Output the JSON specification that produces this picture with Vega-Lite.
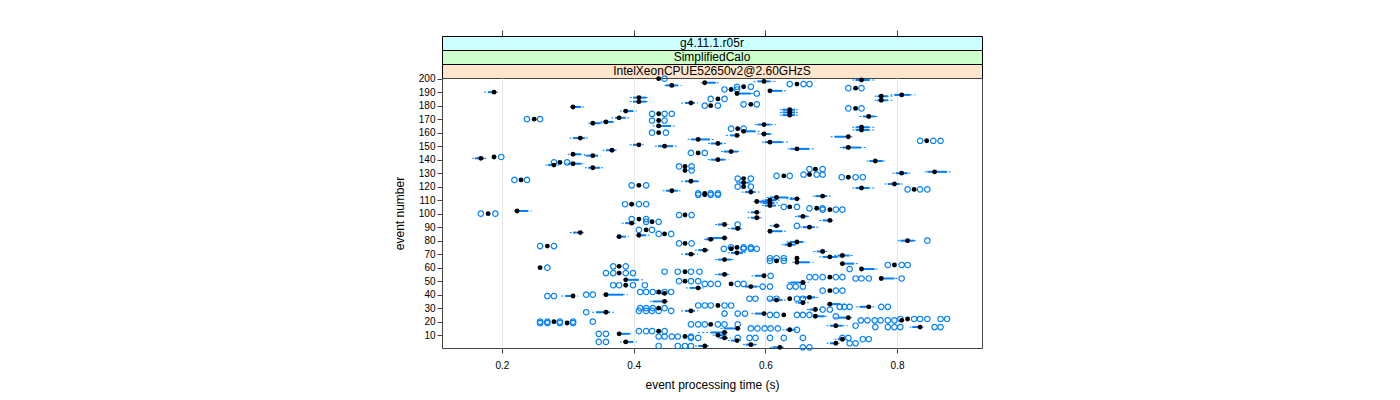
{
  "$schema": "https://vega.github.io/schema/vega-lite/v6.json",
  "padding": {"left": 392, "top": 29, "right": 10, "bottom": 5},
  "bounds": "flush",
  "spacing": 0,
  "config": {"font": "Liberation Sans", "view": {"stroke": "#444"}},
  "resolve": {"scale": {"x": "independent"}},
  "datasets": {
    "bw": [
      {"e":200,"m":0.438},
      {"e":199,"m":0.746,"q1":0.737,"q3":0.758,"w1":0.732,"w2":0.766},
      {"e":198,"m":0.598,"q1":0.588,"q3":0.607,"w1":0.582,"w2":0.616},
      {"e":197,"m":0.508,"q1":0.510,"q3":0.525,"w1":0.502,"w2":0.531},
      {"e":196,"m":0.648},
      {"e":195,"m":0.458,"q1":0.449,"q3":0.467,"w1":0.447,"w2":0.473},
      {"e":194,"m":0.567},
      {"e":193,"m":0.737},
      {"e":192,"m":0.548},
      {"e":191,"m":0.607,"q1":0.608,"q3":0.626,"w1":0.604,"w2":0.634},
      {"e":190,"m":0.188,"q1":0.179,"q3":0.191,"w1":0.173,"w2":0.194},
      {"e":189,"m":0.557,"q1":0.558,"q3":0.578,"w1":0.554,"w2":0.582},
      {"e":188,"m":0.807,"q1":0.796,"q3":0.820,"w1":0.790,"w2":0.828},
      {"e":187,"m":0.776,"q1":0.770,"q3":0.786,"w1":0.766,"w2":0.793},
      {"e":186,"m":0.408,"q1":0.399,"q3":0.419,"w1":0.394,"w2":0.425},
      {"e":185,"m":0.528},
      {"e":184,"m":0.776,"q1":0.770,"q3":0.786,"w1":0.766,"w2":0.793},
      {"e":183,"m":0.408,"q1":0.399,"q3":0.419,"w1":0.394,"w2":0.425},
      {"e":182,"m":0.487,"q1":0.478,"q3":0.493,"w1":0.472,"w2":0.498},
      {"e":181,"m":0.578},
      {"e":180,"m":0.517},
      {"e":179,"m":0.308,"q1":0.308,"q3":0.320,"w1":0.303,"w2":0.326},
      {"e":178,"m":0.737},
      {"e":177,"m":0.637,"q1":0.626,"q3":0.645,"w1":0.622,"w2":0.651},
      {"e":176,"m":0.388,"q1":0.384,"q3":0.399,"w1":0.379,"w2":0.405},
      {"e":175,"m":0.637,"q1":0.626,"q3":0.645,"w1":0.622,"w2":0.651},
      {"e":174,"m":0.438},
      {"e":173,"m":0.637,"q1":0.626,"q3":0.645,"w1":0.622,"w2":0.651},
      {"e":172,"m":0.757,"q1":0.748,"q3":0.767,"w1":0.743,"w2":0.773},
      {"e":171,"m":0.378,"q1":0.372,"q3":0.388,"w1":0.366,"w2":0.394},
      {"e":170,"m":0.249},
      {"e":169,"m":0.438},
      {"e":168,"m":0.358,"q1":0.353,"q3":0.369,"w1":0.349,"w2":0.373},
      {"e":167,"m":0.338,"q1":0.335,"q3":0.349,"w1":0.331,"w2":0.355},
      {"e":166,"m":0.598,"q1":0.588,"q3":0.608,"w1":0.584,"w2":0.616},
      {"e":165,"m":0.438,"q1":0.434,"q3":0.457,"w1":0.429,"w2":0.463},
      {"e":164,"m":0.746,"q1":0.737,"q3":0.758,"w1":0.732,"w2":0.766},
      {"e":163,"m":0.558},
      {"e":162,"m":0.746,"q1":0.737,"q3":0.758,"w1":0.732,"w2":0.766},
      {"e":161,"m":0.567,"q1":0.569,"q3":0.585,"w1":0.564,"w2":0.592},
      {"e":160,"m":0.438},
      {"e":159,"m":0.598,"q1":0.593,"q3":0.608,"w1":0.588,"w2":0.613},
      {"e":158,"m":0.557,"q1":0.546,"q3":0.558,"w1":0.540,"w2":0.563},
      {"e":157,"m":0.726,"q1":0.705,"q3":0.728,"w1":0.699,"w2":0.734},
      {"e":156,"m":0.319,"q1":0.308,"q3":0.326,"w1":0.303,"w2":0.331},
      {"e":155,"m":0.498,"q1":0.487,"q3":0.516,"w1":0.482,"w2":0.522},
      {"e":154,"m":0.845},
      {"e":153,"m":0.607,"q1":0.599,"q3":0.626,"w1":0.595,"w2":0.634},
      {"e":152,"m":0.528,"q1":0.517,"q3":0.535,"w1":0.513,"w2":0.540},
      {"e":151,"m":0.408,"q1":0.399,"q3":0.411,"w1":0.394,"w2":0.416},
      {"e":150,"m":0.447,"q1":0.437,"q3":0.460,"w1":0.432,"w2":0.467},
      {"e":149,"m":0.726,"q1":0.717,"q3":0.745,"w1":0.713,"w2":0.752},
      {"e":148,"m":0.648,"q1":0.638,"q3":0.667,"w1":0.634,"w2":0.675},
      {"e":147,"m":0.367,"q1":0.358,"q3":0.372,"w1":0.353,"w2":0.376},
      {"e":146,"m":0.548,"q1":0.537,"q3":0.558,"w1":0.533,"w2":0.564},
      {"e":145,"m":0.498},
      {"e":144,"m":0.308,"q1":0.305,"q3":0.320,"w1":0.300,"w2":0.326},
      {"e":143,"m":0.338,"q1":0.328,"q3":0.346,"w1":0.325,"w2":0.350},
      {"e":142,"m":0.188},
      {"e":141,"m":0.168,"q1":0.159,"q3":0.173,"w1":0.155,"w2":0.178},
      {"e":140,"m":0.528,"q1":0.517,"q3":0.538,"w1":0.513,"w2":0.544},
      {"e":139,"m":0.767,"q1":0.758,"q3":0.778,"w1":0.754,"w2":0.784},
      {"e":138,"m":0.288},
      {"e":137,"m":0.308,"q1":0.300,"q3":0.320,"w1":0.296,"w2":0.325},
      {"e":136,"m":0.279,"q1":0.270,"q3":0.282,"w1":0.266,"w2":0.287},
      {"e":135,"m":0.478},
      {"e":134,"m":0.338,"q1":0.331,"q3":0.349,"w1":0.326,"w2":0.355},
      {"e":133,"m":0.676},
      {"e":132,"m":0.478},
      {"e":131,"m":0.857,"q1":0.846,"q3":0.876,"w1":0.842,"w2":0.884},
      {"e":130,"m":0.807,"q1":0.798,"q3":0.816,"w1":0.793,"w2":0.822},
      {"e":129,"m":0.667},
      {"e":128,"m":0.628},
      {"e":127,"m":0.726},
      {"e":126,"m":0.567},
      {"e":125,"m":0.229},
      {"e":124,"m":0.487,"q1":0.478,"q3":0.498,"w1":0.472,"w2":0.502},
      {"e":123,"m":0.567,"q1":0.560,"q3":0.575,"w1":0.556,"w2":0.580},
      {"e":122,"m":0.796,"q1":0.786,"q3":0.804,"w1":0.781,"w2":0.810},
      {"e":121,"m":0.408},
      {"e":120,"m":0.567},
      {"e":119,"m":0.746,"q1":0.737,"q3":0.758,"w1":0.732,"w2":0.766},
      {"e":118,"m":0.826},
      {"e":117,"m":0.458,"q1":0.449,"q3":0.467,"w1":0.444,"w2":0.473},
      {"e":116,"m":0.578,"q1":0.569,"q3":0.585,"w1":0.564,"w2":0.592},
      {"e":115,"m":0.508},
      {"e":114,"m":0.508},
      {"e":113,"m":0.687,"q1":0.676,"q3":0.694,"w1":0.672,"w2":0.699},
      {"e":112,"m":0.617,"q1":0.607,"q3":0.634,"w1":0.602,"w2":0.641},
      {"e":111,"m":0.648,"q1":0.637,"q3":0.649,"w1":0.632,"w2":0.655},
      {"e":110,"m":0.607,"q1":0.599,"q3":0.617,"w1":0.595,"w2":0.622},
      {"e":109,"m":0.587,"q1":0.587,"q3":0.607,"w1":0.582,"w2":0.613},
      {"e":108,"m":0.607,"q1":0.596,"q3":0.614,"w1":0.592,"w2":0.619},
      {"e":107,"m":0.397},
      {"e":106,"m":0.607,"q1":0.599,"q3":0.616,"w1":0.595,"w2":0.622},
      {"e":105,"m":0.637},
      {"e":104,"m":0.678},
      {"e":103,"m":0.698},
      {"e":102,"m":0.223,"q1":0.223,"q3":0.240,"w1":0.219,"w2":0.245},
      {"e":101,"m":0.587,"q1":0.578,"q3":0.588,"w1":0.573,"w2":0.593},
      {"e":100,"m":0.179},
      {"e":99,"m":0.478},
      {"e":98,"m":0.657,"q1":0.649,"q3":0.664,"w1":0.645,"w2":0.669},
      {"e":97,"m":0.587,"q1":0.578,"q3":0.592,"w1":0.573,"w2":0.596},
      {"e":96,"m":0.408},
      {"e":95,"m":0.698,"q1":0.687,"q3":0.699,"w1":0.682,"w2":0.704},
      {"e":94,"m":0.428},
      {"e":93,"m":0.397,"q1":0.387,"q3":0.399,"w1":0.382,"w2":0.403},
      {"e":92,"m":0.538,"q1":0.528,"q3":0.540,"w1":0.524,"w2":0.544},
      {"e":91,"m":0.617,"q1":0.611,"q3":0.622,"w1":0.607,"w2":0.626},
      {"e":90,"m":0.667,"q1":0.657,"q3":0.675,"w1":0.653,"w2":0.681},
      {"e":89,"m":0.558,"q1":0.548,"q3":0.563,"w1":0.543,"w2":0.567},
      {"e":88,"m":0.419},
      {"e":87,"m":0.607,"q1":0.608,"q3":0.626,"w1":0.604,"w2":0.634},
      {"e":86,"m":0.319,"q1":0.308,"q3":0.320,"w1":0.303,"w2":0.326},
      {"e":85,"m":0.447},
      {"e":84,"m":0.408,"q1":0.407,"q3":0.419,"w1":0.403,"w2":0.425},
      {"e":83,"m":0.378,"q1":0.376,"q3":0.388,"w1":0.373,"w2":0.393},
      {"e":82,"m":0.538,"q1":0.516,"q3":0.538,"w1":0.511,"w2":0.543},
      {"e":81,"m":0.517,"q1":0.510,"q3":0.522,"w1":0.507,"w2":0.526},
      {"e":80,"m":0.816,"q1":0.805,"q3":0.826,"w1":0.801,"w2":0.831},
      {"e":79,"m":0.648,"q1":0.637,"q3":0.657,"w1":0.632,"w2":0.663},
      {"e":78,"m":0.478},
      {"e":77,"m":0.637,"q1":0.629,"q3":0.645,"w1":0.625,"w2":0.649},
      {"e":76,"m":0.269},
      {"e":75,"m":0.557},
      {"e":74,"m":0.548},
      {"e":73,"m":0.508,"q1":0.498,"q3":0.513,"w1":0.493,"w2":0.517},
      {"e":72,"m":0.687,"q1":0.678,"q3":0.691,"w1":0.673,"w2":0.696},
      {"e":71,"m":0.557,"q1":0.548,"q3":0.566,"w1":0.543,"w2":0.570},
      {"e":70,"m":0.487,"q1":0.478,"q3":0.493,"w1":0.472,"w2":0.498},
      {"e":69,"m":0.717,"q1":0.710,"q3":0.728,"w1":0.705,"w2":0.734},
      {"e":68,"m":0.698,"q1":0.687,"q3":0.710,"w1":0.682,"w2":0.717},
      {"e":67,"m":0.648},
      {"e":66,"m":0.538,"q1":0.528,"q3":0.548,"w1":0.524,"w2":0.552},
      {"e":65,"m":0.617},
      {"e":64,"m":0.648,"q1":0.646,"q3":0.667,"w1":0.641,"w2":0.673},
      {"e":63,"m":0.717,"q1":0.717,"q3":0.735,"w1":0.713,"w2":0.743},
      {"e":62,"m":0.796},
      {"e":61,"m":0.378},
      {"e":60,"m":0.258},
      {"e":59,"m":0.746,"q1":0.748,"q3":0.766,"w1":0.743,"w2":0.773},
      {"e":57,"m":0.478},
      {"e":56,"m":0.378},
      {"e":55,"m":0.538,"q1":0.528,"q3":0.543,"w1":0.524,"w2":0.548},
      {"e":54,"m":0.598,"q1":0.584,"q3":0.599,"w1":0.579,"w2":0.604},
      {"e":53,"m":0.698},
      {"e":52,"m":0.776,"q1":0.778,"q3":0.796,"w1":0.773,"w2":0.801},
      {"e":51,"m":0.388,"q1":0.391,"q3":0.408,"w1":0.387,"w2":0.416},
      {"e":50,"m":0.478},
      {"e":49,"m":0.657,"q1":0.638,"q3":0.661,"w1":0.634,"w2":0.666},
      {"e":48,"m":0.548},
      {"e":47,"m":0.388},
      {"e":46,"m":0.578,"q1":0.569,"q3":0.588,"w1":0.564,"w2":0.592},
      {"e":45,"m":0.498,"q1":0.485,"q3":0.502,"w1":0.479,"w2":0.507},
      {"e":43,"m":0.698},
      {"e":42,"m":0.438},
      {"e":41,"m":0.447,"q1":0.438,"q3":0.449,"w1":0.434,"w2":0.454},
      {"e":40,"m":0.358,"q1":0.361,"q3":0.384,"w1":0.353,"w2":0.391},
      {"e":39,"m":0.308,"q1":0.296,"q3":0.311,"w1":0.290,"w2":0.316},
      {"e":38,"m":0.667,"q1":0.657,"q3":0.676,"w1":0.653,"w2":0.681},
      {"e":37,"m":0.637},
      {"e":36,"m":0.617,"q1":0.608,"q3":0.626,"w1":0.604,"w2":0.631},
      {"e":35,"m":0.447,"q1":0.429,"q3":0.449,"w1":0.425,"w2":0.454},
      {"e":34,"m":0.657,"q1":0.649,"q3":0.661,"w1":0.645,"w2":0.666},
      {"e":33,"m":0.698,"q1":0.698,"q3":0.714,"w1":0.693,"w2":0.722},
      {"e":32,"m":0.528},
      {"e":31,"m":0.757,"q1":0.743,"q3":0.761,"w1":0.738,"w2":0.766},
      {"e":30,"m":0.438},
      {"e":29,"m":0.676,"q1":0.667,"q3":0.679,"w1":0.663,"w2":0.684},
      {"e":28,"m":0.487,"q1":0.478,"q3":0.493,"w1":0.472,"w2":0.498},
      {"e":27,"m":0.358,"q1":0.343,"q3":0.364,"w1":0.337,"w2":0.370},
      {"e":26,"m":0.598,"q1":0.584,"q3":0.599,"w1":0.579,"w2":0.604},
      {"e":25,"m":0.628},
      {"e":24,"m":0.676,"q1":0.676,"q3":0.690,"w1":0.672,"w2":0.694},
      {"e":23,"m":0.726,"q1":0.710,"q3":0.726,"w1":0.705,"w2":0.732},
      {"e":22,"m":0.816},
      {"e":21,"m":0.807},
      {"e":20,"m":0.279},
      {"e":19,"m":0.299},
      {"e":18,"m":0.517},
      {"e":17,"m":0.707,"q1":0.698,"q3":0.717,"w1":0.693,"w2":0.725},
      {"e":16,"m":0.835,"q1":0.823,"q3":0.838,"w1":0.819,"w2":0.843},
      {"e":15,"m":0.558,"q1":0.537,"q3":0.558,"w1":0.532,"w2":0.563},
      {"e":14,"m":0.637,"q1":0.631,"q3":0.645,"w1":0.626,"w2":0.649},
      {"e":13,"m":0.438},
      {"e":12,"m":0.538,"q1":0.517,"q3":0.538,"w1":0.498,"w2":0.543},
      {"e":11,"m":0.378,"q1":0.379,"q3":0.394,"w1":0.375,"w2":0.399},
      {"e":10,"m":0.528,"q1":0.525,"q3":0.538,"w1":0.520,"w2":0.543},
      {"e":9,"m":0.478},
      {"e":8,"m":0.538,"q1":0.531,"q3":0.543,"w1":0.528,"w2":0.548},
      {"e":7,"m":0.717,"q1":0.710,"q3":0.720,"w1":0.705,"w2":0.725},
      {"e":6,"m":0.557,"q1":0.548,"q3":0.558,"w1":0.543,"w2":0.563},
      {"e":5,"m":0.388,"q1":0.384,"q3":0.399,"w1":0.379,"w2":0.405},
      {"e":4,"m":0.707,"q1":0.698,"q3":0.708,"w1":0.693,"w2":0.713},
      {"e":3,"m":0.578,"q1":0.570,"q3":0.585,"w1":0.566,"w2":0.590},
      {"e":2,"m":0.508,"q1":0.498,"q3":0.513,"w1":0.493,"w2":0.517},
      {"e":1,"m":0.622,"q1":0.611,"q3":0.626,"w1":0.607,"w2":0.631}
    ],
    "pts": [
      {"e":200,"t":0.447},
      {"e":196,"t":0.637},{"e":196,"t":0.658},{"e":196,"t":0.667},
      {"e":194,"t":0.557},{"e":194,"t":0.578},
      {"e":193,"t":0.726},{"e":193,"t":0.746},
      {"e":192,"t":0.538},{"e":192,"t":0.557},
      {"e":189,"t":0.587},
      {"e":185,"t":0.517},{"e":185,"t":0.538},
      {"e":181,"t":0.567},{"e":181,"t":0.587},
      {"e":180,"t":0.508},{"e":180,"t":0.528},
      {"e":178,"t":0.726},{"e":178,"t":0.746},
      {"e":174,"t":0.428},{"e":174,"t":0.447},{"e":174,"t":0.458},
      {"e":170,"t":0.238},{"e":170,"t":0.258},
      {"e":169,"t":0.428},{"e":169,"t":0.447},
      {"e":163,"t":0.548},{"e":163,"t":0.567},
      {"e":160,"t":0.428},{"e":160,"t":0.449},
      {"e":154,"t":0.835},{"e":154,"t":0.855},{"e":154,"t":0.866},
      {"e":145,"t":0.487},{"e":145,"t":0.508},
      {"e":142,"t":0.199},
      {"e":138,"t":0.279},{"e":138,"t":0.299},
      {"e":135,"t":0.469},{"e":135,"t":0.488},
      {"e":133,"t":0.667},{"e":133,"t":0.687},
      {"e":132,"t":0.488},
      {"e":129,"t":0.658},{"e":129,"t":0.678},{"e":129,"t":0.687},
      {"e":128,"t":0.617},{"e":128,"t":0.637},
      {"e":127,"t":0.716},{"e":127,"t":0.737},{"e":127,"t":0.748},
      {"e":126,"t":0.558},{"e":126,"t":0.578},
      {"e":125,"t":0.219},{"e":125,"t":0.238},
      {"e":121,"t":0.397},{"e":121,"t":0.419},
      {"e":120,"t":0.558},{"e":120,"t":0.578},
      {"e":118,"t":0.816},{"e":118,"t":0.835},{"e":118,"t":0.846},
      {"e":115,"t":0.498},{"e":115,"t":0.517},{"e":115,"t":0.528},
      {"e":114,"t":0.498},{"e":114,"t":0.517},{"e":114,"t":0.528},
      {"e":107,"t":0.387},{"e":107,"t":0.408},{"e":107,"t":0.419},
      {"e":105,"t":0.628},{"e":105,"t":0.648},
      {"e":104,"t":0.667},{"e":104,"t":0.687},
      {"e":103,"t":0.687},{"e":103,"t":0.707},{"e":103,"t":0.717},
      {"e":100,"t":0.168},{"e":100,"t":0.190},
      {"e":99,"t":0.469},{"e":99,"t":0.488},
      {"e":96,"t":0.397},{"e":96,"t":0.419},
      {"e":94,"t":0.419},{"e":94,"t":0.438},
      {"e":92,"t":0.558},
      {"e":91,"t":0.648},
      {"e":88,"t":0.408},{"e":88,"t":0.428},
      {"e":85,"t":0.438},{"e":85,"t":0.457},
      {"e":80,"t":0.846},
      {"e":78,"t":0.469},{"e":78,"t":0.488},
      {"e":76,"t":0.258},{"e":76,"t":0.279},
      {"e":75,"t":0.548},{"e":75,"t":0.567},{"e":75,"t":0.578},
      {"e":74,"t":0.537},{"e":74,"t":0.567},{"e":74,"t":0.578},{"e":74,"t":0.587},
      {"e":67,"t":0.607},{"e":67,"t":0.617},{"e":67,"t":0.628},
      {"e":65,"t":0.607},{"e":65,"t":0.628},
      {"e":62,"t":0.786},{"e":62,"t":0.807},{"e":62,"t":0.816},
      {"e":61,"t":0.369},{"e":61,"t":0.388},
      {"e":60,"t":0.269},
      {"e":59,"t":0.728},
      {"e":57,"t":0.447},{"e":57,"t":0.467},{"e":57,"t":0.487},{"e":57,"t":0.500},
      {"e":56,"t":0.358},{"e":56,"t":0.369},{"e":56,"t":0.388},{"e":56,"t":0.399},
      {"e":54,"t":0.608},
      {"e":53,"t":0.667},{"e":53,"t":0.676},{"e":53,"t":0.687},{"e":53,"t":0.707},{"e":53,"t":0.717},
      {"e":52,"t":0.737},{"e":52,"t":0.746},{"e":52,"t":0.757},{"e":52,"t":0.807},
      {"e":50,"t":0.469},{"e":50,"t":0.487},{"e":50,"t":0.498},
      {"e":48,"t":0.508},{"e":48,"t":0.517},{"e":48,"t":0.528},{"e":48,"t":0.558},{"e":48,"t":0.567},
      {"e":47,"t":0.369},{"e":47,"t":0.378},{"e":47,"t":0.399},{"e":47,"t":0.417},
      {"e":46,"t":0.596},{"e":46,"t":0.607},{"e":46,"t":0.637},{"e":46,"t":0.646},{"e":46,"t":0.657},
      {"e":43,"t":0.687},{"e":43,"t":0.707},{"e":43,"t":0.717},
      {"e":42,"t":0.410},{"e":42,"t":0.419},{"e":42,"t":0.429},{"e":42,"t":0.447},{"e":42,"t":0.457},
      {"e":40,"t":0.328},{"e":40,"t":0.338},
      {"e":39,"t":0.269},{"e":39,"t":0.279},
      {"e":37,"t":0.576},{"e":37,"t":0.585},{"e":37,"t":0.607},{"e":37,"t":0.617},{"e":37,"t":0.648},{"e":37,"t":0.657},
      {"e":32,"t":0.498},{"e":32,"t":0.508},{"e":32,"t":0.517},{"e":32,"t":0.538},{"e":32,"t":0.548},
      {"e":31,"t":0.713},{"e":31,"t":0.720},{"e":31,"t":0.728},{"e":31,"t":0.776},{"e":31,"t":0.786},
      {"e":30,"t":0.410},{"e":30,"t":0.419},{"e":30,"t":0.429},{"e":30,"t":0.447},
      {"e":29,"t":0.687},{"e":29,"t":0.698},
      {"e":28,"t":0.408},{"e":28,"t":0.419},{"e":28,"t":0.428},{"e":28,"t":0.438},{"e":28,"t":0.457},
      {"e":27,"t":0.328},
      {"e":26,"t":0.538},{"e":26,"t":0.558},{"e":26,"t":0.569},
      {"e":25,"t":0.607},{"e":25,"t":0.617},{"e":25,"t":0.648},{"e":25,"t":0.657},{"e":25,"t":0.667},
      {"e":24,"t":0.707},
      {"e":22,"t":0.805},{"e":22,"t":0.826},{"e":22,"t":0.835},{"e":22,"t":0.846},{"e":22,"t":0.866},{"e":22,"t":0.876},
      {"e":21,"t":0.745},{"e":21,"t":0.755},{"e":21,"t":0.766},{"e":21,"t":0.775},{"e":21,"t":0.786},{"e":21,"t":0.796},
      {"e":20,"t":0.258},{"e":20,"t":0.269},{"e":20,"t":0.288},{"e":20,"t":0.308},{"e":20,"t":0.338},
      {"e":19,"t":0.258},{"e":19,"t":0.269},{"e":19,"t":0.288},{"e":19,"t":0.308},
      {"e":18,"t":0.487},{"e":18,"t":0.498},{"e":18,"t":0.508},{"e":18,"t":0.528},{"e":18,"t":0.538},{"e":18,"t":0.558},
      {"e":17,"t":0.737},
      {"e":16,"t":0.767},{"e":16,"t":0.786},{"e":16,"t":0.796},{"e":16,"t":0.805},{"e":16,"t":0.857},{"e":16,"t":0.866},
      {"e":15,"t":0.578},{"e":15,"t":0.588},{"e":15,"t":0.599},{"e":15,"t":0.608},{"e":15,"t":0.619},
      {"e":14,"t":0.648},
      {"e":13,"t":0.408},{"e":13,"t":0.419},{"e":13,"t":0.428},{"e":13,"t":0.447},
      {"e":11,"t":0.347},{"e":11,"t":0.358},
      {"e":9,"t":0.438},{"e":9,"t":0.447},{"e":9,"t":0.458},{"e":9,"t":0.467},{"e":9,"t":0.487},
      {"e":8,"t":0.487},{"e":8,"t":0.498},{"e":8,"t":0.558},{"e":8,"t":0.576},{"e":8,"t":0.585},{"e":8,"t":0.607},{"e":8,"t":0.628},{"e":8,"t":0.657},{"e":8,"t":0.717},{"e":8,"t":0.726},
      {"e":7,"t":0.748},{"e":7,"t":0.757},
      {"e":5,"t":0.347},{"e":5,"t":0.358},
      {"e":4,"t":0.728},{"e":4,"t":0.737},
      {"e":2,"t":0.438},{"e":2,"t":0.467},{"e":2,"t":0.478},{"e":2,"t":0.487},
      {"e":1,"t":0.657},{"e":1,"t":0.667}
    ]
  },
  "vconcat": [
    {
      "width": 540, "height": 14,
      "view": {"fill": "#ccffff", "stroke": "#000000"},
      "data": {"values": [{"label": "g4.11.1.r05r"}]},
      "mark": {"type": "text", "fontSize": 12, "color": "black", "font": "Liberation Sans"},
      "encoding": {
        "text": {"field": "label"},
        "x": {"datum": 0.519, "type": "quantitative",
              "scale": {"domain": [0.109, 0.929], "nice": false, "zero": false},
              "axis": {"orient": "top", "values": [0.2, 0.4, 0.6, 0.8], "labels": false, "domain": false, "grid": false, "ticks": true, "tickSize": 6, "tickColor": "#444", "title": null}}
      }
    },
    {
      "width": 540, "height": 14,
      "view": {"fill": "#ccffcc", "stroke": "#000000"},
      "data": {"values": [{"label": "SimplifiedCalo"}]},
      "mark": {"type": "text", "fontSize": 12, "color": "black", "font": "Liberation Sans"},
      "encoding": {"text": {"field": "label"}}
    },
    {
      "width": 540, "height": 14,
      "view": {"fill": "#ffe5cc", "stroke": "#000000"},
      "data": {"values": [{"label": "IntelXeonCPUE52650v2@2.60GHzS"}]},
      "mark": {"type": "text", "fontSize": 12, "color": "black", "font": "Liberation Sans"},
      "encoding": {"text": {"field": "label"}}
    },
    {
      "width": 540, "height": 270,
      "view": {"stroke": "#444"},
      "encoding": {
        "y": {"field": "e", "type": "quantitative",
              "scale": {"domain": [0.5, 200.5], "nice": false, "zero": false},
              "axis": {"values": [10,20,30,40,50,60,70,80,90,100,110,120,130,140,150,160,170,180,190,200],
                       "title": "event number", "grid": false, "domain": false, "tickSize": 5, "tickColor": "#444",
                       "labelFontSize": 10, "labelColor": "black", "labelPadding": 2,
                       "titleFontSize": 12, "titleFontWeight": "normal", "titleColor": "black", "titlePadding": 12}}
      },
      "layer": [
        {
          "data": {"name": "bw"},
          "transform": [{"filter": "isValid(datum.w1)"}],
          "mark": {"type": "rule", "color": "#0080ff", "strokeWidth": 1, "strokeDash": [2, 2]},
          "encoding": {
            "x": {"field": "w1", "type": "quantitative",
                  "scale": {"domain": [0.109, 0.929], "nice": false, "zero": false},
                  "axis": {"values": [0.2, 0.4, 0.6, 0.8], "format": ".1f", "title": "event processing time (s)",
                           "grid": true, "gridColor": "#e6e6e6", "domain": false, "tickSize": 5, "tickColor": "#444",
                           "labelFontSize": 10, "labelColor": "black", "labelPadding": 7,
                           "titleFontSize": 12, "titleFontWeight": "normal", "titleColor": "black", "titlePadding": 9}},
            "x2": {"field": "w2"}
          }
        },
        {
          "data": {"name": "bw"},
          "transform": [{"filter": "isValid(datum.q1)"}],
          "mark": {"type": "rule", "color": "#0080ff", "strokeWidth": 2},
          "encoding": {
            "x": {"field": "q1", "type": "quantitative"},
            "x2": {"field": "q3"}
          }
        },
        {
          "data": {"name": "pts"},
          "mark": {"type": "point", "shape": "circle", "filled": false, "color": "#0080ff", "size": 30, "strokeWidth": 1.2, "opacity": 1},
          "encoding": {
            "x": {"field": "t", "type": "quantitative"}
          }
        },
        {
          "data": {"name": "bw"},
          "mark": {"type": "point", "shape": "circle", "filled": true, "color": "black", "size": 24, "opacity": 1},
          "encoding": {
            "x": {"field": "m", "type": "quantitative"}
          }
        }
      ]
    }
  ]
}
